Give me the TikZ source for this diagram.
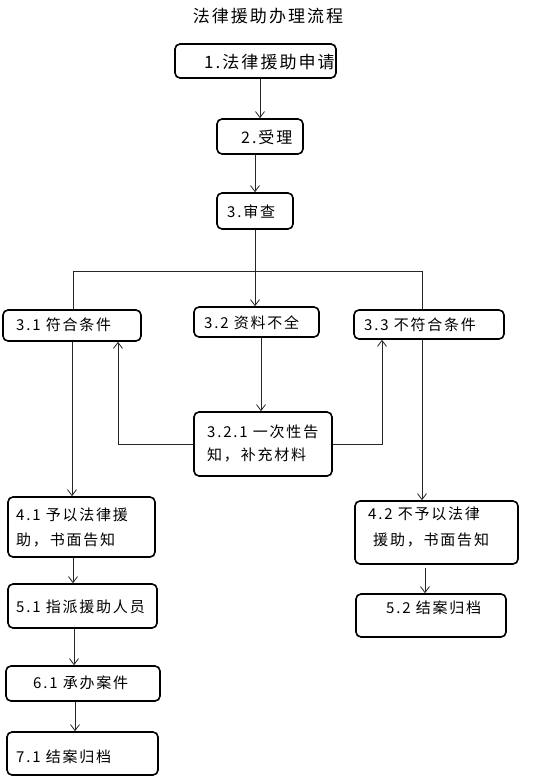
\documentclass[tikz,border=0pt]{standalone}
\usepackage{fontspec}
\setmainfont{Noto Sans CJK SC}[LetterSpace=12]
\usetikzlibrary{arrows.meta}
\begin{document}
\begin{tikzpicture}[x=1pt,y=-1pt,
  box/.style={draw, line width=1.6pt, rounded corners=5pt, inner sep=0pt, fill=white},
  lbl/.style={anchor=west, inner sep=0pt, align=left, font=\fontsize{15}{23}\selectfont},
  ttl/.style={inner sep=0pt, font=\fontsize{17}{20}\selectfont},
  arr/.style={-{Straight Barb[length=6pt,width=9pt]}, line width=0.8pt, draw=black!85},
  ln/.style={line width=0.8pt, draw=black!85}]
\useasboundingbox (0,0) rectangle (548,783);
\node[ttl] (title) at (268,16) {法律援助办理流程};
% boxes
\node[box,minimum width=161pt,minimum height=34pt] (b1) at (255.5,61) {};
\node[box,minimum width=86pt,minimum height=35pt] (b2) at (260,136.5) {};
\node[box,minimum width=76pt,minimum height=36pt] (b3) at (255,211) {};
\node[box,minimum width=138pt,minimum height=31pt] (b31) at (72,325.5) {};
\node[box,minimum width=125pt,minimum height=30pt] (b32) at (256.5,322) {};
\node[box,minimum width=150pt,minimum height=29pt] (b33) at (429,324.5) {};
\node[box,minimum width=138pt,minimum height=64pt] (b321) at (263,444) {};
\node[box,minimum width=147pt,minimum height=60pt] (b41) at (81.5,527) {};
\node[box,minimum width=149pt,minimum height=44pt] (b51) at (82.5,606) {};
\node[box,minimum width=154pt,minimum height=35pt] (b61) at (83,683.5) {};
\node[box,minimum width=151pt,minimum height=43pt] (b71) at (82.5,753.5) {};
\node[box,minimum width=163pt,minimum height=63pt] (b42) at (436.5,532.5) {};
\node[box,minimum width=150pt,minimum height=43pt] (b52) at (431,615.5) {};
% labels
\node[lbl,font=\fontsize{17}{22}\selectfont] (t1) at (204,62) {1.法律援助申请};
\node[lbl,font=\fontsize{16}{22}\selectfont] (t2) at (241,137) {2.受理};
\node[lbl] (t3) at (227,212) {3.审查};
\node[lbl] (t31) at (16,325) {3.1 符合条件};
\node[lbl] (t32) at (204,323) {3.2 资料不全};
\node[lbl] (t33) at (364,325) {3.3 不符合条件};
\node[lbl] (t321) at (207,443) {3.2.1 一次性告\\知，补充材料};
\node[lbl,font=\fontsize{15}{25}\selectfont] (t41) at (16,527.5) {4.1 予以法律援\\助，书面告知};
\node[lbl,font=\fontsize{15}{26}\selectfont] (t42) at (368,527) {4.2 不予以法律\\\hspace*{5pt}援助，书面告知};
\node[lbl] (t51) at (16,607) {5.1 指派援助人员};
\node[lbl] (t61) at (33,683) {6.1 承办案件};
\node[lbl] (t71) at (16,757) {7.1 结案归档};
\node[lbl] (t52) at (386,608) {5.2 结案归档};
% connectors
\draw[arr] (b2.north |- b1.south) -- (b2.north);
\draw[arr] (b3.north |- b2.south) -- (b3.north);
\coordinate (jl) at (73,271);
\coordinate (jr) at (422,271);
\coordinate (jm) at (b3.south |- jl);
\draw[ln] (b3.south) -- (jm);
\draw[ln] (jl |- b31.north) -- (jl) -- (jr) -- (jr |- b33.north);
\draw[arr] (jm) -- (jm |- b32.north);
\draw[arr] ([xshift=4.5pt]b32.south) -- ([xshift=4.5pt]b32.south |- b321.north);
\draw[arr] (b321.west) -| ([xshift=46pt]b31.south);
\draw[arr] (b321.east) -| ([xshift=-47pt]b33.south);
\draw[arr] (b31.south) -- (b31.south |- b41.north);
\draw[arr] ([xshift=-7pt]b33.south) -- ([xshift=-7pt]b33.south |- b42.north);
\draw[arr] ([xshift=-8.5pt]b41.south) -- ([xshift=-8.5pt]b41.south |- b51.north);
\draw[arr] ([xshift=-8.5pt]b51.south) -- ([xshift=-8.5pt]b51.south |- b61.north);
\draw[arr] ([xshift=-8pt]b61.south) -- ([xshift=-8pt]b61.south |- b71.north);
\draw[arr] ([xshift=-11.5pt,yshift=-3pt]b42.south) -- ([xshift=-11.5pt]b42.south |- b52.north);
\end{tikzpicture}
\end{document}
